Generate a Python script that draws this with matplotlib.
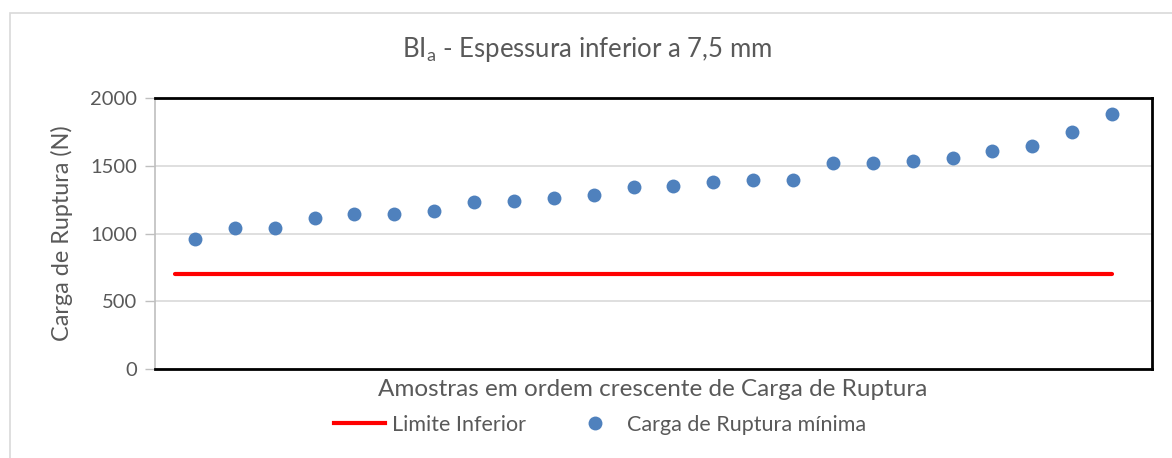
import matplotlib
matplotlib.use("Agg")
import matplotlib.pyplot as plt
from matplotlib.lines import Line2D
from matplotlib.patches import Rectangle

# ---- data ----
sample_idx = list(range(1, 25))
carga_ruptura = [958, 1039, 1039, 1118, 1147, 1147, 1167, 1236, 1243, 1265, 1285, 1341,
                 1347, 1381, 1393, 1398, 1523, 1523, 1536, 1560, 1607, 1646, 1747, 1885]
limite_x = [0.5, 24]
limite_y = [700, 700]
y_ticks = [0, 500, 1000, 1500, 2000]

title = "BI$_\\mathregular{a}$ - Espessura inferior a 7,5 mm"
xlabel = "Amostras em ordem crescente de Carga de Ruptura"
ylabel = "Carga de Ruptura (N)"
legend_labels = ["Limite Inferior", "Carga de Ruptura mínima"]

plt.rcParams['font.family'] = ['Lato', 'DejaVu Sans']
txt = "#595959"
blue = "#4F81BD"
red = "#FF0000"

W, H = 1172, 458
fig = plt.figure(figsize=(W / 100, H / 100), dpi=100)

# outer chart frame
fig.patches.append(Rectangle((10 / W, -0.1), 1.2, 1 - 13 / H + 0.1, transform=fig.transFigure,
                             fill=False, edgecolor="#D9D9D9", linewidth=1.2))

ax = fig.add_axes([155 / W, 1 - 369 / H, 997 / W, (369 - 98) / H])
ax.set_xlim(0, 25)
ax.set_ylim(0, 2000)
ax.set_yticks(y_ticks)
ax.set_yticklabels([str(v) for v in y_ticks], color=txt, fontsize=14.5)
ax.set_xticks([])
ax.tick_params(axis='y', length=7, color="#BFBFBF", width=1, pad=6)
ax.grid(axis='y', color="#D9D9D9", linewidth=1.2)
ax.set_axisbelow(True)
for s in ['top', 'right', 'bottom']:
    ax.spines[s].set_color('black')
    ax.spines[s].set_linewidth(2)
ax.spines['left'].set_color('#BFBFBF')
ax.spines['left'].set_linewidth(1.2)

ax.plot(limite_x, limite_y, color=red, linewidth=3, solid_capstyle='round', zorder=3)
ax.scatter(sample_idx, carga_ruptura, s=100, color=blue, zorder=4, linewidths=0)

fig.text(587 / W, 1 - 50 / H, title, ha='center', va='center', fontsize=18.5, color=txt)
fig.text(653 / W, 1 - 389 / H, xlabel, ha='center', va='center', fontsize=17.5, color=txt)
fig.text(62 / W, 1 - 233 / H, ylabel, ha='center', va='center', rotation=90, fontsize=16.8, color=txt)

handles = [Line2D([0], [0], color=red, linewidth=3),
           Line2D([0], [0], linestyle='none', marker='o', markersize=10, color=blue, markeredgewidth=0)]
leg = fig.legend(handles, legend_labels, loc='center', bbox_to_anchor=(600 / W, 1 - 425 / H),
                 ncol=2, frameon=False, fontsize=15.5, handlelength=2.4, handletextpad=0.3,
                 columnspacing=2.0)
for t in leg.get_texts():
    t.set_color(txt)

fig.savefig("out.png", dpi=100, facecolor='white')
